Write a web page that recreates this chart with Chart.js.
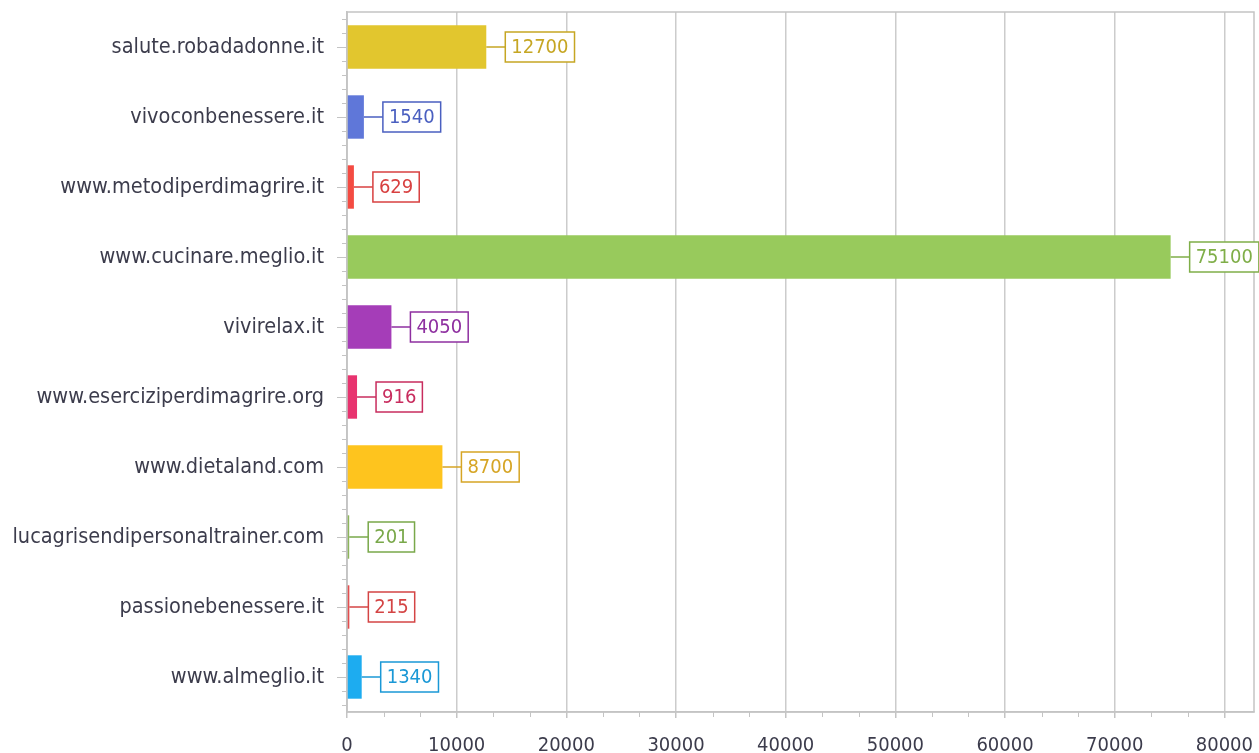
<!DOCTYPE html>
<html>
<head>
<meta charset="utf-8">
<script src="https://cdn.jsdelivr.net/npm/chart.js@4.4.1/dist/chart.umd.min.js"></script>
<style>
  html, body { margin: 0; padding: 0; background: #fff; overflow: hidden; }
  #wrap { width: 1259px; height: 753px; position: relative; }
</style>
</head>
<body>
<div id="wrap"><canvas id="siteChart"></canvas></div>
<script>
// dati
const sites = [
    'salute.robadadonne.it',
    'vivoconbenessere.it',
    'www.metodiperdimagrire.it',
    'www.cucinare.meglio.it',
    'vivirelax.it',
    'www.eserciziperdimagrire.org',
    'www.dietaland.com',
    'lucagrisendipersonaltrainer.com',
    'passionebenessere.it',
    'www.almeglio.it',
];
const visits = [12700, 1540, 629, 75100, 4050, 916, 8700, 201, 215, 1340];
const xTicks = [0, 10000, 20000, 30000, 40000, 50000, 60000, 70000, 80000];

const barColors = ['#e2c62e', '#5f77d9', '#f44b42', '#98ca5c', '#a53db8',
                   '#e8336f', '#fec41e', '#8cb55a', '#e34e4e', '#1dacf0'];
const labelColors = ['#c6a623', '#4a5fc0', '#d84040', '#7fae48', '#8e2fa0',
                     '#c82c5e', '#d6a525', '#79a84a', '#d44444', '#1a98d6'];

const FONT = '"DejaVu Sans Condensed", "DejaVu Sans", sans-serif';
const AXIS_GRAY = '#c4c4c4';

// riquadro + tacche secondarie
const framePlugin = {
    id: 'frame',
    beforeDatasetsDraw(chart) {
        const { ctx, chartArea: a, scales } = chart;
        ctx.save();
        ctx.strokeStyle = AXIS_GRAY;
        ctx.lineWidth = 1.5;
        ctx.strokeRect(a.left, a.top, a.right - a.left, a.bottom - a.top);

        // tacche minori asse Y
        const y = scales.y;
        ctx.lineWidth = 1;
        sites.forEach((_, i) => {
            [-0.4, -0.2, 0.2, 0.4].forEach((d) => {
                const py = Math.round(y.getPixelForValue(i + d)) + 0.5;
                ctx.beginPath();
                ctx.moveTo(a.left - 5, py);
                ctx.lineTo(a.left, py);
                ctx.stroke();
            });
        });

        // tacche minori asse X
        const x = scales.x;
        for (let i = 0; i < xTicks.length - 1; i++) {
            const step = (xTicks[i + 1] - xTicks[i]) / 3;
            [1, 2].forEach((k) => {
                const px = Math.round(x.getPixelForValue(xTicks[i] + step * k)) + 0.5;
                ctx.beginPath();
                ctx.moveTo(px, a.bottom);
                ctx.lineTo(px, a.bottom + 5);
                ctx.stroke();
            });
        }
        ctx.restore();
    },
};

// etichette valore con riquadro
const valueLabels = {
    id: 'valueLabels',
    afterDatasetsDraw(chart) {
        const { ctx } = chart;
        const meta = chart.getDatasetMeta(0);
        ctx.save();
        ctx.font = '20px ' + FONT;
        ctx.textBaseline = 'middle';
        ctx.textAlign = 'center';
        meta.data.forEach((bar, i) => {
            const color = labelColors[i];
            const text = String(visits[i]);
            const tw = ctx.measureText(text).width;
            const bx = bar.x + 19;
            const bw = tw + 12;
            const bh = 30;
            ctx.strokeStyle = color;
            ctx.lineWidth = 1.5;
            ctx.beginPath();
            ctx.moveTo(bar.x, bar.y);
            ctx.lineTo(bx, bar.y);
            ctx.stroke();
            ctx.fillStyle = '#fff';
            ctx.fillRect(bx, bar.y - bh / 2, bw, bh);
            ctx.strokeRect(bx, bar.y - bh / 2, bw, bh);
            ctx.fillStyle = color;
            ctx.fillText(text, bx + bw / 2, bar.y + 1);
        });
        ctx.restore();
    },
};

const ctx = document.getElementById('siteChart').getContext('2d');
new Chart(ctx, {
    type: 'bar',
    data: {
        labels: sites,
        datasets: [{
            data: visits,
            backgroundColor: barColors,
            borderWidth: 0,
            barPercentage: 0.62,
            categoryPercentage: 1,
        }],
    },
    plugins: [framePlugin, valueLabels],
    options: {
        indexAxis: 'y',
        responsive: true,
        maintainAspectRatio: false,
        animation: false,
        layout: { padding: { top: 12, right: 5, left: 0, bottom: 0 } },
        plugins: {
            legend: { display: false },
            tooltip: { enabled: false },
        },
        scales: {
            x: {
                min: 0,
                max: 82700,
                afterBuildTicks: (scale) => {
                    scale.ticks = xTicks.map((v) => ({ value: v }));
                },
                afterFit: (scale) => {
                    scale.height = 41;
                    scale.paddingLeft = 0;
                    scale.paddingRight = 0;
                },
                grid: { color: '#cccccc', lineWidth: 1.5, tickLength: 6, tickColor: AXIS_GRAY },
                border: { color: AXIS_GRAY, width: 1.5 },
                ticks: {
                    padding: 16,
                    color: '#3c3c4c',
                    font: { family: FONT, size: 20 },
                    maxRotation: 0,
                    callback: (val) => String(val),
                },
            },
            y: {
                afterFit: (scale) => {
                    scale.width = 347;
                    scale.paddingTop = 0;
                    scale.paddingBottom = 0;
                },
                grid: {
                    offset: false,
                    drawOnChartArea: false,
                    tickLength: 10,
                    tickColor: AXIS_GRAY,
                },
                border: { color: AXIS_GRAY, width: 1.5 },
                ticks: {
                    padding: 13,
                    color: '#3c3c4c',
                    font: { family: FONT, size: 21.5 },
                },
            },
        },
    },
});
</script>
</body>
</html>
